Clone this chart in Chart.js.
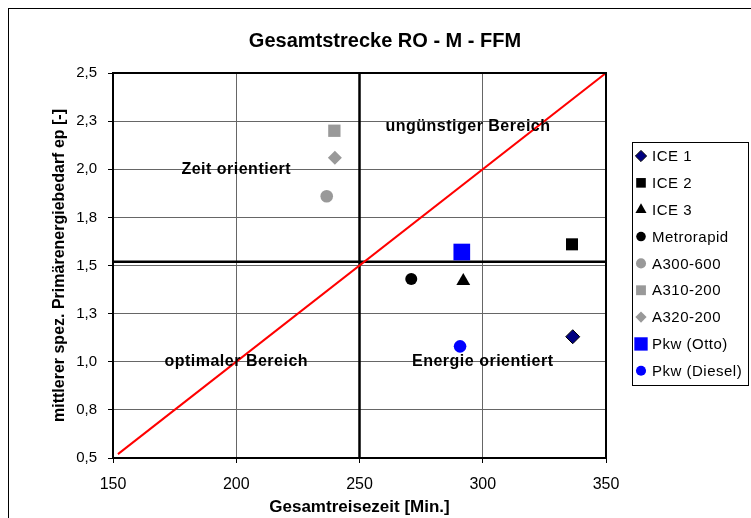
<!DOCTYPE html>
<html>
<head>
<meta charset="utf-8">
<script src="https://cdn.jsdelivr.net/npm/chart.js@4/dist/chart.umd.min.js"></script>
<style>
  html, body { margin: 0; padding: 0; background: #fff; }
  #box { position: relative; width: 751px; height: 518px; }
</style>
</head>
<body>
<div id="box"><canvas id="grafico"></canvas></div>
<script>
// === DATEN ===
const serien    = ['ICE 1', 'ICE 2', 'ICE 3', 'Metrorapid', 'A300-600', 'A310-200', 'A320-200', 'Pkw (Otto)', 'Pkw (Diesel)'];
const reisezeit = [336.5, 336.2, 292.1, 271.0, 236.7, 239.8, 240.0, 291.5, 290.8]; // Min.
const energie   = [1.13, 1.61, 1.42, 1.43, 1.86, 2.20, 2.06, 1.57, 1.08];         // ep [-]

const diagonaleX = [152, 350];
const diagonaleY = [0.52, 2.5];
const grenzeZeit    = 250;  // senkrechte Trennlinie
const grenzeEnergie = 1.52; // waagrechte Trennlinie

const xTicks = [150, 200, 250, 300, 350];
const yTicks = [0.5, 0.75, 1.0, 1.25, 1.5, 1.75, 2.0, 2.25, 2.5];

const bereiche = ['Zeit orientiert', 'ungünstiger Bereich', 'optimaler Bereich', 'Energie orientiert'];
const bereichX = [200, 294, 200, 300];
const bereichY = [2.0, 2.22, 1.0, 1.0];

// === STIL DER PUNKTE ===
const stil = [
  { form: 'rectRot',  r: 7,    farbe: '#000080', rand: '#000000', bw: 1 },
  { form: 'rect',     r: 8.5,  farbe: '#000000', rand: '#000000', bw: 0 },
  { form: 'triangle', r: 8,    farbe: '#000000', rand: '#000000', bw: 0 },
  { form: 'circle',   r: 6,    farbe: '#000000', rand: '#000000', bw: 0 },
  { form: 'circle',   r: 6.3,  farbe: '#999999', rand: '#999999', bw: 0 },
  { form: 'rect',     r: 8.7,  farbe: '#999999', rand: '#999999', bw: 0 },
  { form: 'rectRot',  r: 7,    farbe: '#999999', rand: '#999999', bw: 0 },
  { form: 'rect',     r: 11.8, farbe: '#0000ff', rand: '#0000ff', bw: 0 },
  { form: 'circle',   r: 6.3,  farbe: '#0000ff', rand: '#0000ff', bw: 0 }
];

const FONT = 'Arial, "Liberation Sans", sans-serif';

// Punkt-Datasets
const punkte = serien.map((name, i) => ({
  label: name,
  data: [{ x: reisezeit[i], y: energie[i] }],
  pointStyle: stil[i].form,
  pointRadius: stil[i].r,
  pointHoverRadius: stil[i].r,
  backgroundColor: stil[i].farbe,
  borderColor: stil[i].rand,
  borderWidth: stil[i].bw,
  order: 1
}));

// Linien (nicht in der Legende)
const linien = [
  {
    label: '_diagonale',
    data: diagonaleX.map((x, i) => ({ x: x, y: diagonaleY[i] })),
    showLine: true, borderColor: '#ff0000', borderWidth: 2, pointRadius: 0, order: 2
  },
  {
    label: '_zeit',
    data: [{ x: grenzeZeit, y: yTicks[0] }, { x: grenzeZeit, y: yTicks[yTicks.length - 1] }],
    showLine: true, borderColor: '#000', borderWidth: 2.5, pointRadius: 0, order: 3
  },
  {
    label: '_energie',
    data: [{ x: xTicks[0], y: grenzeEnergie }, { x: xTicks[xTicks.length - 1], y: grenzeEnergie }],
    showLine: true, borderColor: '#000', borderWidth: 2.5, pointRadius: 0, order: 3
  }
];

// Rahmen, Titel, Bereichstexte und Legende
const extras = {
  id: 'extras',
  beforeDraw(chart) {
    const ctx = chart.ctx;
    ctx.save();
    ctx.fillStyle = '#fff';
    ctx.fillRect(0, 0, chart.width, chart.height);
    ctx.restore();
  },
  afterDraw(chart) {
    const { ctx, chartArea: a, scales: { x, y } } = chart;
    ctx.save();

    // Plotrahmen
    ctx.strokeStyle = '#000';
    ctx.lineWidth = 2;
    ctx.strokeRect(a.left, a.top, a.right - a.left, a.bottom - a.top);

    // äußerer Rahmen
    ctx.lineWidth = 1;
    ctx.strokeRect(8.5, 8.5, 800, 600);

    // Titel
    ctx.fillStyle = '#000';
    ctx.font = 'bold 20px ' + FONT;
    ctx.textAlign = 'center';
    ctx.textBaseline = 'middle';
    ctx.fillText('Gesamtstrecke RO - M - FFM', 385, 41);

    // Bereichstexte
    ctx.font = 'bold 16px ' + FONT;
    ctx.letterSpacing = '0.5px';
    bereiche.forEach((t, i) => {
      ctx.fillText(t, x.getPixelForValue(bereichX[i]), y.getPixelForValue(bereichY[i]));
    });

    // Legende
    const lx = 632.5, ly = 142.5, lw = 116, lh = 243;
    ctx.letterSpacing = '0px';
    ctx.strokeStyle = '#000';
    ctx.lineWidth = 1;
    ctx.strokeRect(lx, ly, lw, lh);
    ctx.font = '15px ' + FONT;
    ctx.textAlign = 'left';
    const drawPoint = Chart.helpers && Chart.helpers.drawPoint;
    serien.forEach((name, i) => {
      const yy = 156 + i * 26.85;
      const s = stil[i];
      ctx.fillStyle = s.farbe;
      ctx.strokeStyle = s.rand;
      ctx.lineWidth = s.bw;
      if (drawPoint) {
        drawPoint(ctx, { pointStyle: s.form, radius: s.r * 0.8, rotation: 0, borderWidth: s.bw }, 641, yy);
      }
      ctx.fillStyle = '#000';
      ctx.letterSpacing = '0.5px';
      ctx.fillText(name, 652, yy + 1);
      ctx.letterSpacing = '0px';
    });

    ctx.restore();
  }
};

new Chart(document.getElementById('grafico'), {
  type: 'scatter',
  data: { datasets: punkte.concat(linien) },
  options: {
    responsive: true,
    maintainAspectRatio: false,
    animation: false,
    layout: { padding: { top: 73, right: 145, left: 0, bottom: 0 } },
    plugins: {
      legend: { display: false },
      title: { display: false },
      tooltip: { enabled: false }
    },
    scales: {
      x: {
        type: 'linear',
        min: xTicks[0],
        max: xTicks[xTicks.length - 1],
        afterBuildTicks: s => { s.ticks = xTicks.map(v => ({ value: v })); },
        afterFit: s => { s.height = 60; },
        grid: { color: '#666', lineWidth: 1, tickColor: '#000', tickLength: 5 },
        border: { color: '#000', width: 2 },
        ticks: { color: '#000', font: { family: FONT, size: 16 }, padding: 12, maxRotation: 0 },
        title: {
          display: true, text: 'Gesamtreisezeit [Min.]', color: '#000',
          font: { family: FONT, size: 17, weight: 'bold' }, padding: { top: 0, bottom: 0 }
        }
      },
      y: {
        type: 'linear',
        min: yTicks[0],
        max: yTicks[yTicks.length - 1],
        afterBuildTicks: s => { s.ticks = yTicks.map(v => ({ value: v })); },
        afterFit: s => { s.width = 113; },
        grid: { color: '#666', lineWidth: 1, tickColor: '#000', tickLength: 5 },
        border: { color: '#000', width: 2 },
        ticks: {
          color: '#000', font: { family: FONT, size: 15 }, padding: 11,
          callback: v => v.toFixed(1).replace('.', ',')
        },
        title: {
          display: true, text: 'mittlerer spez. Primärenergiebedarf ep [-]', color: '#000',
          font: { family: FONT, size: 16, weight: 'bold' }, padding: { top: 50, bottom: 0 }
        }
      }
    }
  },
  plugins: [extras]
});
</script>
</body>
</html>
